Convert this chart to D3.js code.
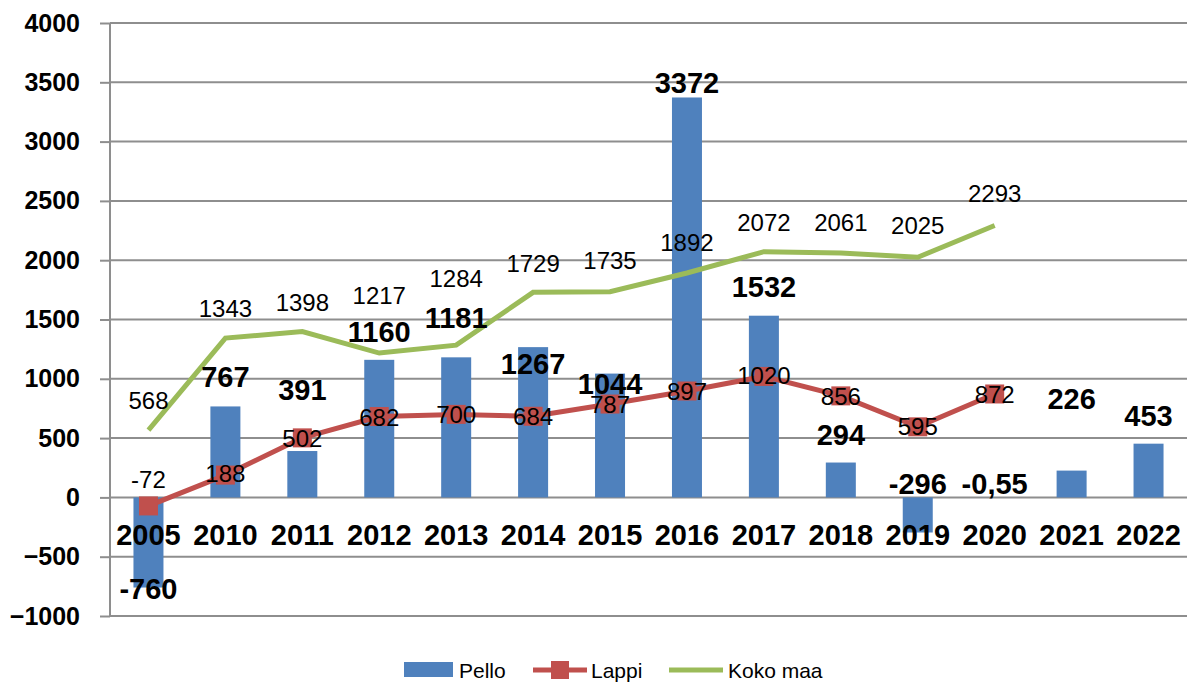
<!doctype html>
<html lang=fi>
<head>
<meta charset="utf-8">
<title>Pello</title>
<script src="https://cdn.jsdelivr.net/npm/d3@7"></script>
<style>
body { margin: 0; background: #fff; }
svg { display: block; font-family: "Liberation Sans", Arial, sans-serif; }
.grid line { stroke: #8e8e8e; stroke-width: 2; }
.yaxis text { font-weight: bold; font-size: 25px; fill: #000; }
.yaxis line, .yaxis path { stroke: #8e8e8e; stroke-width: 2; }
.xaxis text { font-weight: bold; font-size: 29px; fill: #000; }
</style>
</head>
<body>
<div id=chart></div>
<script>
// data
var years = ["2005","2010","2011","2012","2013","2014","2015","2016","2017","2018","2019","2020","2021","2022"];
var pello = [-760, 767, 391, 1160, 1181, 1267, 1044, 3372, 1532, 294, -296, -0.55, 226, 453];
var pelloText = ["-760","767","391","1160","1181","1267","1044","3372","1532","294","-296","-0,55","226","453"];
var lappi = [-72, 188, 502, 682, 700, 684, 787, 897, 1020, 856, 595, 872];
var kokoMaa = [568, 1343, 1398, 1217, 1284, 1729, 1735, 1892, 2072, 2061, 2025, 2293];
var yTicks = [-1000, -500, 0, 500, 1000, 1500, 2000, 2500, 3000, 3500, 4000];

// label nudges in px (how far above the anchor point the label centre sits)
var pelloDy = [-1, 30, 61, 28, 40, -16, -10, 15, 29, 28, 49, 14, 72, 28];
var kokoDy = [30, 30, 29, 58, 67, 29, 31, 31, 29, 31, 32, 32];
var lappiDy = [27, 2, 0, -1, 0, 0, 0, 0, 1, 0, 0, 0];

var W = 1187, H = 682;
// plot box: l, r, t, b
var m = [110, 1187, 23, 616];

var svg = d3.select("#chart").append("svg")
  .attr("width", W).attr("height", H);

var x = d3.scaleBand().domain(years).range([m[0], m[1]]).padding(0);
var y = d3.scaleLinear().domain([-1000, 4000]).range([m[3], m[2]]);
var step = x.step(), bw = step * 0.39;
var cx = function(i){ return x(years[i]) + step / 2; };

// gridlines
svg.append("g").attr("class", "grid")
  .selectAll("line").data(yTicks).join("line")
  .attr("x1", m[0]).attr("x2", m[1])
  .attr("y1", d => y(d)).attr("y2", d => y(d));

// y axis
var ya = svg.append("g").attr("class", "yaxis")
  .attr("transform", "translate(" + m[0] + ",0)")
  .call(d3.axisLeft(y).tickValues(yTicks).tickSizeInner(10).tickSizeOuter(0)
        .tickPadding(20).tickFormat(d3.format("d")));
ya.select(".domain").attr("d", "M0," + y(4000) + "V" + y(-1000));

// bars
svg.append("g").selectAll("rect").data(pello).join("rect")
  .attr("x", (d, i) => cx(i) - bw / 2)
  .attr("width", bw)
  .attr("y", d => y(Math.max(0, d)))
  .attr("height", d => Math.abs(y(d) - y(0)))
  .attr("fill", "#4f81bd");

// Koko maa line
var line = d3.line().x((d, i) => cx(i)).y(d => y(d));
svg.append("path").datum(kokoMaa)
  .attr("d", line)
  .attr("fill", "none").attr("stroke", "#9bbb59").attr("stroke-width", 5);

// Lappi line + markers
svg.append("path").datum(lappi)
  .attr("d", line)
  .attr("fill", "none").attr("stroke", "#c0504d").attr("stroke-width", 5);
svg.append("g").selectAll("rect").data(lappi).join("rect")
  .attr("x", (d, i) => cx(i) - 9.5)
  .attr("y", d => y(d) - 9.5)
  .attr("width", 19).attr("height", 19)
  .attr("fill", "#c0504d");

// x axis labels sitting under the zero line
var xa = svg.append("g").attr("class", "xaxis")
  .attr("transform", "translate(0," + y(0) + ")")
  .call(d3.axisBottom(x).tickSize(0).tickPadding(27));
xa.select(".domain").remove();

// data labels
svg.append("g").selectAll("text").data(kokoMaa).join("text")
  .attr("x", (d, i) => cx(i))
  .attr("y", (d, i) => y(d) - kokoDy[i])
  .attr("dy", "0.36em")
  .attr("text-anchor", "middle")
  .style("font-size", "24px")
  .text(d => d);

svg.append("g").selectAll("text").data(lappi).join("text")
  .attr("x", (d, i) => cx(i))
  .attr("y", (d, i) => y(d) - lappiDy[i])
  .attr("dy", "0.36em")
  .attr("text-anchor", "middle")
  .style("font-size", "24px")
  .text(d => d);

svg.append("g").selectAll("text").data(pello).join("text")
  .attr("x", (d, i) => cx(i))
  .attr("y", (d, i) => y(d) - pelloDy[i])
  .attr("dy", "0.36em")
  .attr("text-anchor", "middle")
  .style("font-size", "29px").style("font-weight", "bold")
  .text((d, i) => pelloText[i]);

// legend
var lg = svg.append("g").style("font-size", "21px");
lg.append("rect").attr("x", 404).attr("y", 662).attr("width", 49).attr("height", 15).attr("fill", "#4f81bd");
lg.append("text").attr("x", 459).attr("y", 670).attr("dy", "0.36em").text("Pello");
lg.append("line").attr("x1", 533).attr("x2", 587).attr("y1", 670).attr("y2", 670)
  .attr("stroke", "#c0504d").attr("stroke-width", 5);
lg.append("rect").attr("x", 551).attr("y", 661).attr("width", 18).attr("height", 18).attr("fill", "#c0504d");
lg.append("text").attr("x", 591).attr("y", 670).attr("dy", "0.36em").text("Lappi");
lg.append("line").attr("x1", 669).attr("x2", 723).attr("y1", 670).attr("y2", 670)
  .attr("stroke", "#9bbb59").attr("stroke-width", 5);
lg.append("text").attr("x", 728).attr("y", 670).attr("dy", "0.36em").text("Koko maa");
</script>
</body>
</html>
